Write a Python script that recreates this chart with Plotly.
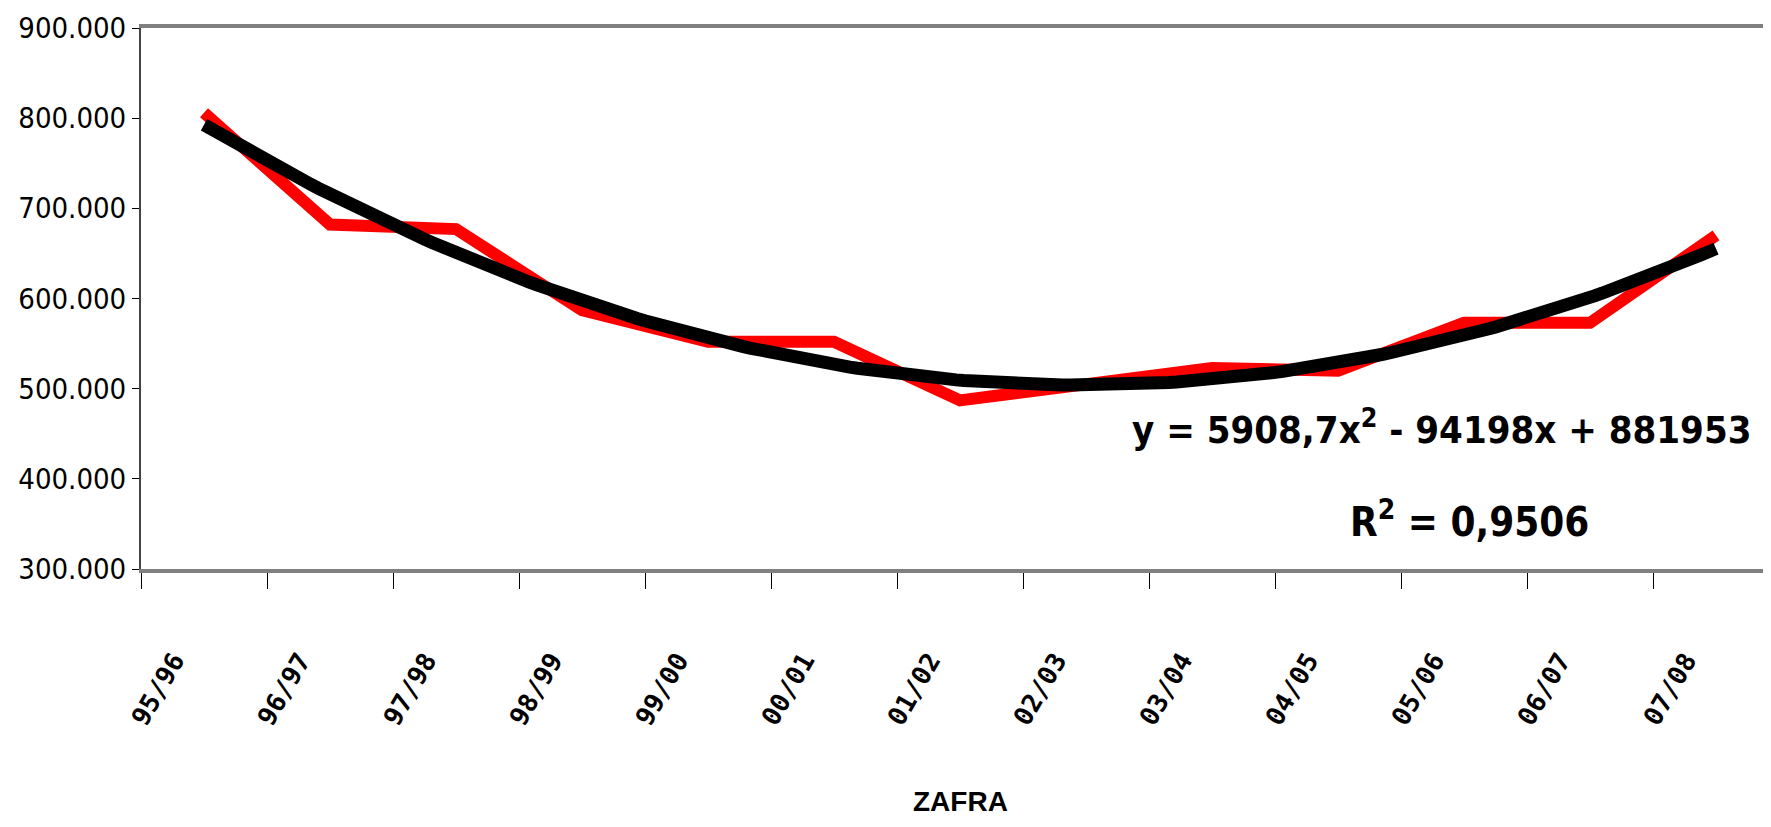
import numpy as np
import plotly.graph_objects as go

# Zafras (Kategorien) und Werte der roten Reihe
zafras = ["95/96", "96/97", "97/98", "98/99", "99/00", "00/01", "01/02",
          "02/03", "03/04", "04/05", "05/06", "06/07", "07/08"]
produccion = [806000, 682000, 677000, 587000, 552000, 552000, 487000,
              505000, 523000, 520000, 573000, 573000, 670000]
y_ticks = [300000, 400000, 500000, 600000, 700000, 800000, 900000]

x_pos = np.arange(1, len(zafras) + 1)

# Polynomische Trendlinie (2. Ordnung) wie in Excel
coef = np.polyfit(x_pos, produccion, 2)
x_fine = np.linspace(1, len(zafras), 200)
y_fine = np.polyval(coef, x_fine)

narrow = "DejaVu Sans Condensed, Liberation Sans Narrow, sans-serif"

fig = go.Figure()
fig.add_trace(go.Scatter(x=x_pos, y=produccion, mode='lines',
                         line=dict(color='#FF0000', width=12), showlegend=False))
fig.add_trace(go.Scatter(x=x_fine, y=y_fine, mode='lines',
                         line=dict(color='#000000', width=13), showlegend=False))

fig.update_layout(
    width=1771, height=827,
    margin=dict(l=133, r=0, t=20, b=266),
    plot_bgcolor='white', paper_bgcolor='white',
    separators=',.',
    showlegend=False,
)

fig.update_xaxes(
    range=[0.5, len(zafras) + 0.5],
    tickvals=x_pos, ticktext=zafras, ticks='',
    tickangle=-60, ticklabelstandoff=62, ticklabelshift=-30,
    tickfont=dict(family="DejaVu Sans Mono, monospace", size=26, color='black', weight=700),
    minor=dict(tickvals=np.arange(0.5, len(zafras) + 1, 1), ticks='outside',
               ticklen=16, tickcolor='black', tickwidth=1),
    showline=True, linecolor='#808080', linewidth=4, mirror=True,
    showgrid=False, zeroline=False,
)

fig.update_yaxes(
    range=[300000, 900000], tickvals=y_ticks, tickformat=',d',
    ticks='outside', ticklen=7, tickcolor='black',
    tickfont=dict(family=narrow, size=29, color='black'),
    showline=True, linecolor='#444444', linewidth=2,
    showgrid=False, zeroline=False,
)

fig.add_annotation(xref='paper', yref='paper', x=0.984, y=0.262,
                   xanchor='right', yanchor='middle', showarrow=False,
                   text="y = 5908,7x<sup>2</sup> - 94198x + 881953",
                   font=dict(family=narrow, size=38, color='black', weight=700))
fig.add_annotation(xref='paper', yref='paper', x=0.811, y=0.092,
                   xanchor='center', yanchor='middle', showarrow=False,
                   text="R<sup>2</sup> = 0,9506",
                   font=dict(family=narrow, size=40, color='black', weight=700))
fig.add_annotation(xref='paper', yref='paper', x=0.5, y=-0.43,
                   xanchor='center', yanchor='middle', showarrow=False,
                   text="ZAFRA",
                   font=dict(family="Liberation Sans, Arial, sans-serif", size=28,
                             color='black', weight=700))

fig.write_html("out.html")
